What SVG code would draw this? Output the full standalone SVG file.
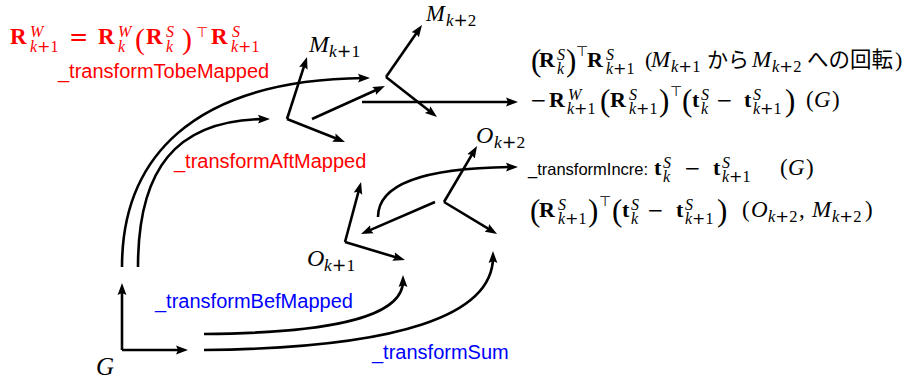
<svg xmlns="http://www.w3.org/2000/svg" width="909" height="383" viewBox="0 0 909 383">
<style>
text{fill:#000}
.mi{font-family:"Liberation Serif",serif;font-style:italic}
.mb{font-family:"Liberation Serif",serif;font-weight:bold}
.mr{font-family:"Liberation Serif",serif}
.op{font-family:"DejaVu Sans",sans-serif}
.cjk{font-family:"Liberation Sans","Noto Sans CJK JP",sans-serif}
.lab{font-family:"Liberation Sans",sans-serif}
.red,.red text,.red tspan{fill:#ff0000}
.blue{fill:#0000ff}
.ln{fill:none;stroke:#000;stroke-width:2.6;marker-end:url(#ah)}
</style>
<defs>
<marker id="ah" viewBox="0 0 12 10" refX="6" refY="5" markerWidth="12" markerHeight="10" orient="auto" markerUnits="userSpaceOnUse">
<path d="M0,0.6 L12,5 L0,9.4 L2,5 z" fill="#000"/>
</marker>
</defs>

<g id="connectors">
<path class="ln" d="M122,267 C122,160 190,80 364,78"/>
<path class="ln" d="M138,267 C138,170 175,120 264,119"/>
<path class="ln" d="M312,119 L379.5,88.5"/>
<path class="ln" d="M362,102 L512,102"/>
<path class="ln" d="M435,202 L366.5,231.6"/>
<path class="ln" d="M378,217 C378,185 420,168 512,167"/>
<path class="ln" d="M204,334 C320,333 403,320 403,281"/>
<path class="ln" d="M204,350 C400,348 493,315 493,257"/>
</g>

<g id="frame-G">
<path class="ln" d="M122,350 L122,289"/>
<path class="ln" d="M122,350 L182,350"/>
<text class="mi" x="96" y="375" font-size="25">G</text>
</g>

<g id="frame-Mk1">
<path class="ln" d="M287,119 L305.2,62.7"/>
<path class="ln" d="M287,119 L339.4,139.8"/>
<text class="mi" x="309" y="52" font-size="24">M</text>
<text x="329" y="57" font-size="17.5"><tspan class="mi">k</tspan><tspan class="op">+</tspan><tspan class="mr">1</tspan></text>
</g>

<g id="frame-Mk2">
<path class="ln" d="M386,77 L418.6,29.9"/>
<path class="ln" d="M386,77 L432.3,113.3"/>
<text class="mi" x="426" y="21" font-size="22.5">M</text>
<text x="446" y="26" font-size="17"><tspan class="mi">k</tspan><tspan class="op">+</tspan><tspan class="mr">2</tspan></text>
</g>

<g id="frame-Ok1">
<path class="ln" d="M345,242 L359.5,187.8"/>
<path class="ln" d="M345,242 L399.2,258.3"/>
<text class="mi" x="307" y="266" font-size="24">O</text>
<text x="324" y="271" font-size="17.5"><tspan class="mi">k</tspan><tspan class="op">+</tspan><tspan class="mr">1</tspan></text>
</g>

<g id="frame-Ok2">
<path class="ln" d="M444,202 L474,151.2"/>
<path class="ln" d="M444,202 L491.9,230.9"/>
<text class="mi" x="476" y="143" font-size="24">O</text>
<text x="494" y="148" font-size="17.5"><tspan class="mi">k</tspan><tspan class="op">+</tspan><tspan class="mr">2</tspan></text>
</g>

<g id="labels">
<text class="lab red" x="58" y="78" font-size="20">_transformTobeMapped</text>
<text class="lab red" x="174" y="168" font-size="20">_transformAftMapped</text>
<text class="lab blue" x="155" y="308" font-size="20">_transformBefMapped</text>
<text class="lab blue" x="372" y="359" font-size="20">_transformSum</text>
</g>

<g id="formula-red" class="red">
<text class="mb" x="10" y="44" font-size="23">R</text>
<text class="mi" x="30" y="37" font-size="16">W</text>
<text x="30" y="52" font-size="16"><tspan class="mi">k</tspan><tspan class="op">+</tspan><tspan class="mr">1</tspan></text>
<text class="op" x="69" y="45" font-size="23">=</text>
<text class="mb" x="98" y="44" font-size="23">R</text>
<text class="mi" x="118" y="37" font-size="16">W</text>
<text class="mi" x="118" y="52" font-size="16">k</text>
<text class="mr" x="135" y="49" font-size="30">(</text>
<text class="mb" x="146" y="44" font-size="23">R</text>
<text class="mi" x="166" y="37" font-size="16">S</text>
<text class="mi" x="166" y="52" font-size="16">k</text>
<text class="mr" x="182" y="49" font-size="30">)</text>
<text class="op" x="196" y="37" font-size="14">⊤</text>
<text class="mb" x="211" y="44" font-size="23">R</text>
<text class="mi" x="232" y="37" font-size="16">S</text>
<text x="231" y="52" font-size="16"><tspan class="mi">k</tspan><tspan class="op">+</tspan><tspan class="mr">1</tspan></text>
</g>

<g id="formula-1">
<text class="mr" x="531" y="71" font-size="31">(</text>
<text class="mb" x="539" y="67" font-size="22">R</text>
<text class="mi" x="557" y="60" font-size="16">S</text>
<text class="mi" x="557" y="74" font-size="16">k</text>
<text class="mr" x="566" y="71" font-size="31">)</text>
<text class="op" x="576" y="56" font-size="14">⊤</text>
<text class="mb" x="587" y="67" font-size="22">R</text>
<text class="mi" x="606" y="60" font-size="16">S</text>
<text x="606" y="74" font-size="16"><tspan class="mi">k</tspan><tspan class="op">+</tspan><tspan class="mr">1</tspan></text>
<text class="mr" x="645" y="67" font-size="22">(</text>
<text class="mi" x="651" y="67" font-size="23">M</text>
<text x="671" y="72" font-size="16.5"><tspan class="mi">k</tspan><tspan class="op">+</tspan><tspan class="mr">1</tspan></text>
<text class="cjk" x="707" y="67" font-size="21">から</text>
<text class="mi" x="752" y="67" font-size="23">M</text>
<text x="772" y="72" font-size="16.5"><tspan class="mi">k</tspan><tspan class="op">+</tspan><tspan class="mr">2</tspan></text>
<text class="cjk" x="807" y="67" font-size="21.5">への回転</text>
<text class="mr" x="895" y="67" font-size="22">)</text>
</g>

<g id="formula-2">
<text class="op" x="530" y="107" font-size="20">−</text>
<text class="mb" x="549" y="107" font-size="22">R</text>
<text class="mi" x="568" y="100" font-size="16">W</text>
<text x="567" y="114" font-size="16"><tspan class="mi">k</tspan><tspan class="op">+</tspan><tspan class="mr">1</tspan></text>
<text class="mr" x="600" y="111" font-size="31">(</text>
<text class="mb" x="610" y="107" font-size="22">R</text>
<text class="mi" x="629" y="100" font-size="16">S</text>
<text x="629" y="114" font-size="16"><tspan class="mi">k</tspan><tspan class="op">+</tspan><tspan class="mr">1</tspan></text>
<text class="mr" x="659" y="111" font-size="31">)</text>
<text class="op" x="670" y="96" font-size="14">⊤</text>
<text class="mr" x="682" y="111" font-size="31">(</text>
<text class="mb" x="692" y="107" font-size="22">t</text>
<text class="mi" x="701" y="100" font-size="16">S</text>
<text class="mi" x="701" y="114" font-size="16">k</text>
<text class="op" x="716" y="107" font-size="20">−</text>
<text class="mb" x="744" y="107" font-size="22">t</text>
<text class="mi" x="753" y="100" font-size="16">S</text>
<text x="753" y="114" font-size="16"><tspan class="mi">k</tspan><tspan class="op">+</tspan><tspan class="mr">1</tspan></text>
<text class="mr" x="785" y="111" font-size="31">)</text>
<text class="mr" x="806" y="107" font-size="23">(</text>
<text class="mi" x="814" y="107" font-size="23">G</text>
<text class="mr" x="832" y="107" font-size="23">)</text>
</g>

<g id="formula-3">
<text class="lab" x="528" y="175" font-size="16.5">_transformIncre:</text>
<text class="mb" x="654" y="175" font-size="22">t</text>
<text class="mi" x="663" y="168" font-size="16">S</text>
<text class="mi" x="663" y="182" font-size="16">k</text>
<text class="op" x="684" y="175" font-size="20">−</text>
<text class="mb" x="713" y="175" font-size="22">t</text>
<text class="mi" x="722" y="168" font-size="16">S</text>
<text x="722" y="182" font-size="16"><tspan class="mi">k</tspan><tspan class="op">+</tspan><tspan class="mr">1</tspan></text>
<text class="mr" x="780" y="175" font-size="23">(</text>
<text class="mi" x="788" y="175" font-size="23">G</text>
<text class="mr" x="806" y="175" font-size="23">)</text>
</g>

<g id="formula-4">
<text class="mr" x="530" y="221" font-size="31">(</text>
<text class="mb" x="539" y="217" font-size="22">R</text>
<text class="mi" x="558" y="210" font-size="16">S</text>
<text x="558" y="224" font-size="16"><tspan class="mi">k</tspan><tspan class="op">+</tspan><tspan class="mr">1</tspan></text>
<text class="mr" x="588" y="221" font-size="31">)</text>
<text class="op" x="599" y="206" font-size="14">⊤</text>
<text class="mr" x="612" y="221" font-size="31">(</text>
<text class="mb" x="622" y="217" font-size="22">t</text>
<text class="mi" x="631" y="210" font-size="16">S</text>
<text class="mi" x="631" y="224" font-size="16">k</text>
<text class="op" x="647" y="217" font-size="20">−</text>
<text class="mb" x="676" y="217" font-size="22">t</text>
<text class="mi" x="685" y="210" font-size="16">S</text>
<text x="685" y="224" font-size="16"><tspan class="mi">k</tspan><tspan class="op">+</tspan><tspan class="mr">1</tspan></text>
<text class="mr" x="717" y="221" font-size="31">)</text>
<text class="mr" x="742" y="217" font-size="23">(</text>
<text class="mi" x="751" y="217" font-size="23">O</text>
<text x="768" y="222" font-size="16.5"><tspan class="mi">k</tspan><tspan class="op">+</tspan><tspan class="mr">2</tspan></text>
<text class="mr" x="799" y="217" font-size="23">,</text>
<text class="mi" x="812" y="217" font-size="23">M</text>
<text x="832" y="222" font-size="16.5"><tspan class="mi">k</tspan><tspan class="op">+</tspan><tspan class="mr">2</tspan></text>
<text class="mr" x="865" y="217" font-size="23">)</text>
</g>
</svg>
